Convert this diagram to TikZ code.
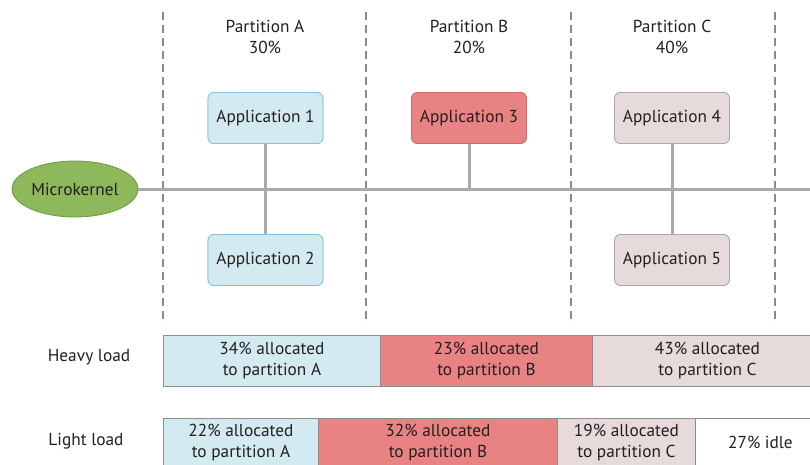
\documentclass[tikz,border=0pt]{standalone}
\usepackage{fontspec}
\setmainfont{PT Sans}
\usetikzlibrary{shapes.geometric}
\definecolor{blueF}{HTML}{D3EAF1}
\definecolor{blueD}{HTML}{86C3DA}
\definecolor{redF}{HTML}{E98383}
\definecolor{redD}{HTML}{D26A6A}
\definecolor{greyF}{HTML}{E6DADA}
\definecolor{greyD}{HTML}{B3A9A9}
\definecolor{greenF}{HTML}{8DB85B}
\definecolor{greenD}{HTML}{6C9A42}
\definecolor{busC}{HTML}{AAAAAA}
\definecolor{dashC}{HTML}{8A8A8A}
\definecolor{barD}{HTML}{8C8C8C}
\definecolor{txt}{HTML}{231F20}
\begin{document}
\begin{tikzpicture}[x=1pt,y=-1pt,
  every node/.style={font=\fontsize{17.3}{21}\selectfont, text=txt},
  app/.style={rounded corners=6pt, draw, line width=0.8pt, minimum width=115pt, minimum height=51pt, inner sep=0pt},
  appA/.style={app, fill=blueF, draw=blueD},
  appB/.style={app, fill=redF, draw=redD},
  appC/.style={app, fill=greyF, draw=greyD},
  bus/.style={draw=busC, line width=3pt},
  sep/.style={draw=dashC, line width=1.1pt, dash pattern=on 8pt off 5pt},
  seg/.style={draw=barD, line width=0.9pt, inner sep=0pt, align=center, anchor=north west},
  lbl/.style={align=center, inner sep=0pt}
]
\useasboundingbox (0,0) rectangle (810,465);
\clip (0,0) rectangle (810,465);

% separators
\foreach \i/\x in {1/163,2/366,3/571,4/775}{
  \coordinate (t\i) at (\x,12);
  \coordinate (b\i) at (\x,324);
  \draw[sep] (t\i) -- (b\i);
}

% partition headers
\node[lbl] (pA) at (265,37) {Partition A\\30\%};
\node[lbl] (pB) at (469,37) {Partition B\\20\%};
\node[lbl] (pC) at (672,37) {Partition C\\40\%};

% microkernel
\node[ellipse, draw=greenD, fill=greenF, line width=0.8pt, minimum width=126pt, minimum height=56pt, inner sep=0pt] (mk) at (75,189) {Microkernel};
\coordinate (busend) at (815,189);

% applications
\node[appA] (a1) at (265.5,118) {Application 1};
\node[appA] (a2) at (265.5,260) {Application 2};
\node[appB] (a3) at (469,118) {Application 3};
\node[appC] (a4) at (672,118) {Application 4};
\node[appC] (a5) at (672,260) {Application 5};

% bus and connectors
\draw[bus] (mk.east) -- (busend);
\draw[bus] (a1.south) -- (a2.north);
\draw[bus] (a4.south) -- (a5.north);
\draw[bus] (a3.south) -- (a3.south |- busend);

% redraw apps over connectors
\node[appA] at (a1) {Application 1};
\node[appA] at (a2) {Application 2};
\node[appB] at (a3) {Application 3};
\node[appC] at (a4) {Application 4};
\node[appC] at (a5) {Application 5};

% load rows
\node[lbl] (hl) at (89,357) {Heavy load};
\node[lbl] (ll) at (86,441) {Light load};

\node[seg, fill=blueF, minimum width=217pt, minimum height=51pt] (h1) at (163,335) {34\% allocated\\to partition A};
\node[seg, fill=redF, minimum width=212pt, minimum height=51pt] (h2) at (380,335) {23\% allocated\\to partition B};
\node[seg, fill=greyF, minimum width=230pt, minimum height=51pt] (h3) at (592,335) {43\% allocated\\to partition C};

\node[seg, fill=blueF, minimum width=155pt, minimum height=48pt] (l1) at (163,418) {22\% allocated\\to partition A};
\node[seg, fill=redF, minimum width=239pt, minimum height=48pt] (l2) at (318,418) {32\% allocated\\to partition B};
\node[seg, fill=greyF, minimum width=138pt, minimum height=48pt] (l3) at (557,418) {19\% allocated\\to partition C};
\node[seg, fill=white, minimum width=130pt, minimum height=48pt] (l4) at (695,418) {27\% idle};
\end{tikzpicture}
\end{document}
